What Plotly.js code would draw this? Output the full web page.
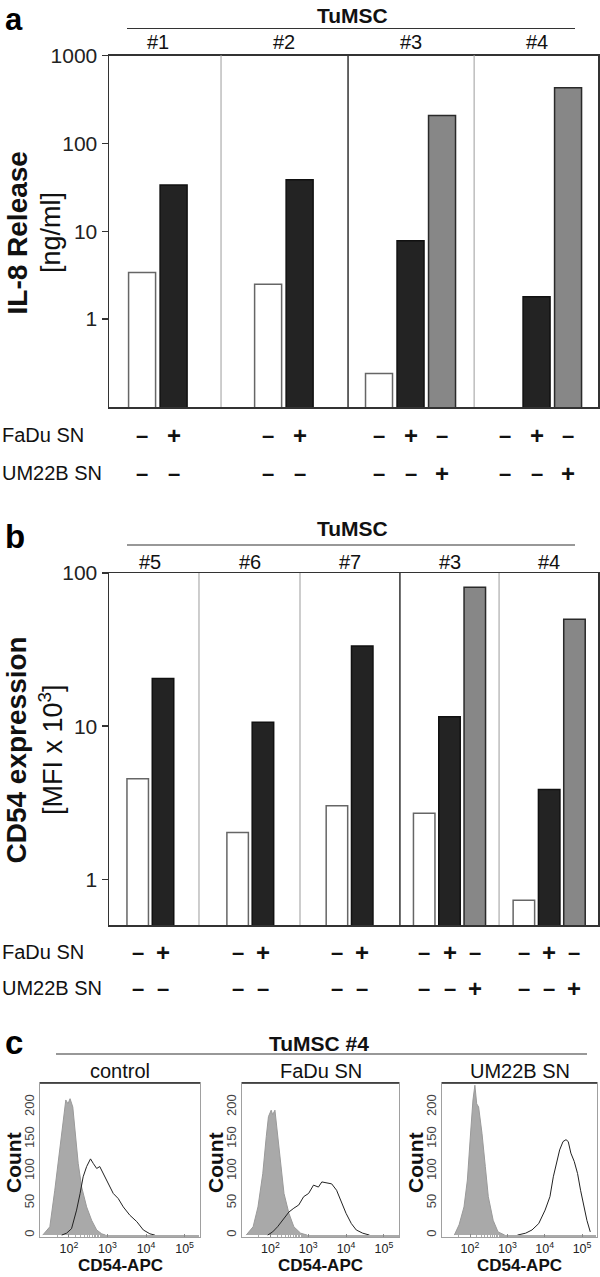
<!DOCTYPE html>
<html><head><meta charset="utf-8">
<script src="https://cdn.plot.ly/plotly-3.0.1.min.js"></script>
<style>html,body{margin:0;padding:0;background:#fff}#chart{width:600px;height:1277px}</style>
</head><body><div id="chart"></div>
<script>
// ================= DATA =================
// Panel a: IL-8 release [ng/ml]
const groupsA = ['#1', '#2', '#3', '#4'];
const controlA = [3.4, 2.5, 0.24, null];
const fadaA = [33.5, 38.5, 7.8, 1.8];
const um22bA = [null, null, 208, 430];
const nCondA = [2, 2, 3, 3];
const yTicksA = [1, 10, 100, 1000];

// Panel b: CD54 expression [MFI x 10^3]
const groupsB = ['#5', '#6', '#7', '#3', '#4'];
const controlB = [4.54, 2.02, 3.02, 2.7, 0.73];
const fadaB = [20.5, 10.6, 33.4, 11.5, 3.86];
const um22bB = [null, null, null, 80.7, 49.9];
const nCondB = [2, 2, 2, 3, 3];
const yTicksB = [1, 10, 100];

const rowLabels = ['FaDu SN', 'UM22B SN'];

// Panel c: flow cytometry histograms, TuMSC #4 (CD54-APC intensity, count)
const histTitles = ['control', 'FaDu SN', 'UM22B SN'];
const isoCtrlX = [21, 32, 43, 58, 71, 83, 95, 107, 126, 145, 174, 214, 288, 389, 525, 708, 891];
const isoCtrlY = [0, 13, 70, 138, 180, 211, 205, 213, 200, 164, 112, 75, 44, 23, 8, 2, 0];
const cd54CtrlX = [65, 87, 117, 158, 195, 234, 288, 363, 427, 525, 631, 776, 1047, 1413, 1905, 2570, 3802, 5754, 8511, 12589, 16982];
const cd54CtrlY = [0, 3, 10, 39, 65, 91, 107, 119, 112, 104, 107, 96, 81, 65, 57, 44, 31, 21, 8, 2, 0];
const isoFaduX = [23, 35, 47, 63, 78, 89, 105, 115, 132, 155, 191, 229, 309, 417, 631, 933];
const isoFaduY = [0, 13, 44, 96, 154, 185, 195, 188, 195, 159, 102, 65, 34, 13, 3, 0];
const cd54FaduX = [85, 115, 155, 229, 309, 417, 562, 759, 1023, 1380, 1862, 2291, 3090, 4169, 5623, 7586, 10000, 13804, 18621, 27542, 41687];
const cd54FaduY = [0, 5, 13, 26, 36, 42, 47, 60, 65, 78, 75, 83, 81, 80, 70, 52, 34, 18, 8, 3, 0];
const isoUmX = [38, 51, 69, 85, 105, 120, 135, 151, 170, 209, 257, 309, 417, 562, 851];
const isoUmY = [0, 16, 44, 86, 164, 211, 234, 205, 200, 159, 107, 60, 23, 5, 0];
const cd54UmX = [1862, 3090, 4571, 6918, 10233, 13804, 16982, 20417, 25119, 30903, 37154, 42658, 50119, 61660, 75858, 91201, 112202, 134896, 165959];
const cd54UmY = [0, 3, 8, 18, 39, 60, 91, 112, 133, 146, 149, 146, 128, 115, 96, 70, 44, 23, 5];
const countTicks = [0, 50, 100, 150, 200];
const intensityTicks = [100, 1000, 10000, 100000];

// ================= LAYOUT CONSTANTS =================
const W = 600, H = 1277;
const px = x => x / W;
const py = y => 1 - y / H;
const FONT = 'Liberation Sans, Arial, sans-serif';

const P = {
  a: {groups: groupsA, series: [controlA, fadaA, um22bA], nCond: nCondA, ticks: yTicksA,
      box: [109, 598, 55.5, 407], xRange: [0, 15.52], yRange: [-1, 3],
      centers: [1.55, 5.55, 9.57, 13.57], dividers: [3.556, 7.587, 11.59], dark: [0, 1, 0],
      barW: 0.857, head: [16, 28.5, 42], rows: [435, 473], letter: 'a',
      t1: 'IL-8 Release', t2: '[ng/ml]', tY: 233},
  b: {groups: groupsB, series: [controlB, fadaB, um22bB], nCond: nCondB, ticks: yTicksB,
      box: [109, 598, 573, 925], xRange: [0, 19.33], yRange: [Math.log10(0.503), 2],
      centers: [1.635, 5.585, 9.51, 13.46, 17.4], dividers: [3.557, 7.55, 11.5, 15.42], dark: [0, 0, 1, 0],
      barW: 0.85, head: [528, 545, 562], rows: [952, 988], letter: 'b',
      t1: 'CD54 expression', t2: '[MFI x 10<sup>3</sup>]', tY: 750}
};
const barStyles = [
  {fill: '#ffffff', line: '#666666'},
  {fill: '#232323', line: '#111111'},
  {fill: '#878787', line: '#2a2a2a'}
];

const traces = [];
const shapes = [];
const annotations = [];
const layout = {
  width: W, height: H, margin: {l: 0, r: 0, t: 0, b: 0},
  paper_bgcolor: '#fff', plot_bgcolor: 'rgba(0,0,0,0)',
  showlegend: false, barmode: 'overlay', font: {family: FONT, color: '#1a1a1a'},
  shapes: shapes, annotations: annotations
};

['a', 'b'].forEach((key, pi) => {
  const p = P[key];
  const xa = pi === 0 ? 'x' : 'x2', ya = pi === 0 ? 'y' : 'y2';
  const xName = pi === 0 ? 'xaxis' : 'xaxis2', yName = pi === 0 ? 'yaxis' : 'yaxis2';
  layout[xName] = {domain: [px(p.box[0]), px(p.box[1])], range: p.xRange, anchor: ya,
    showgrid: false, zeroline: false, showticklabels: false, ticks: '',
    showline: true, mirror: true, linecolor: '#333', linewidth: 1.5, fixedrange: true};
  layout[yName] = {domain: [py(p.box[3]), py(p.box[2])], type: 'log', range: p.yRange, anchor: xa,
    showgrid: false, zeroline: false, tickvals: p.ticks, ticktext: p.ticks.map(String),
    ticks: 'outside', ticklen: 6, tickwidth: 1.5, tickcolor: '#333',
    tickfont: {family: FONT, size: 21, color: '#222'},
    showline: true, mirror: true, linecolor: '#333', linewidth: 1.5, fixedrange: true};

  // bars
  for (let s = 0; s < 3; s++) {
    const xs = [], ys = [];
    p.groups.forEach((g, gi) => {
      const n = p.nCond[gi];
      if (s < n && p.series[s][gi] !== null) {
        xs.push(p.centers[gi] + (s - (n - 1) / 2));
        ys.push(p.series[s][gi]);
      }
    });
    traces.push({type: 'bar', x: xs, y: ys, xaxis: xa, yaxis: ya, width: p.barW,
      marker: {color: barStyles[s].fill, line: {color: barStyles[s].line, width: 1.5}},
      hoverinfo: 'skip'});
  }

  // dividers
  p.dividers.forEach((d, i) => {
    shapes.push({type: 'line', xref: xa, yref: ya + ' domain', x0: d, x1: d, y0: 0, y1: 1,
      line: {color: p.dark[i] ? '#333' : '#bdbdbd', width: 1.5}, layer: 'above'});
  });

  // header
  annotations.push({text: '<b>TuMSC</b>', xref: 'paper', yref: 'paper', x: px(352), y: py(p.head[0]),
    showarrow: false, xanchor: 'center', yanchor: 'middle', font: {size: 21, family: FONT, color: '#111'}});
  shapes.push({type: 'line', xref: 'paper', yref: 'paper', x0: px(127), x1: px(575), y0: py(p.head[1]), y1: py(p.head[1]),
    line: {color: '#333', width: 1.2}});
  p.groups.forEach((g, gi) => {
    annotations.push({text: g, xref: xa, yref: 'paper', x: p.centers[gi], y: py(p.head[2]),
      showarrow: false, xanchor: 'center', yanchor: 'middle', font: {size: 20, family: FONT, color: '#111'}});
  });

  // +/- rows
  rowLabels.forEach((lab, r) => {
    annotations.push({text: lab, xref: 'paper', yref: 'paper', x: 0, y: py(p.rows[r]),
      showarrow: false, xanchor: 'left', yanchor: 'middle', font: {size: 20, family: FONT, color: '#111'}});
    p.groups.forEach((g, gi) => {
      const n = p.nCond[gi];
      for (let k = 0; k < n; k++) {
        const plus = k === r + 1;
        annotations.push({text: '<b>' + (plus ? '+' : '–') + '</b>', xref: xa, yref: 'paper',
          x: p.centers[gi] + (k - (n - 1) / 2), y: py(p.rows[r]),
          showarrow: false, xanchor: 'center', yanchor: 'middle',
          font: {size: plus ? 24 : 22, family: FONT, color: '#111'}});
      }
    });
  });

  // y titles
  annotations.push({text: '<b>' + p.t1 + '</b>', xref: 'paper', yref: 'paper', x: px(16.5), y: py(p.tY),
    showarrow: false, xanchor: 'center', yanchor: 'middle', textangle: -90, font: {size: 28, family: FONT, color: '#111'}});
  annotations.push({text: p.t2, xref: 'paper', yref: 'paper', x: px(51), y: py(p.tY),
    showarrow: false, xanchor: 'center', yanchor: 'middle', textangle: -90, font: {size: 27, family: FONT, color: '#111'}});
});

// panel letters
annotations.push({text: '<b>a</b>', xref: 'paper', yref: 'paper', x: px(3), y: 1,
  showarrow: false, xanchor: 'left', yanchor: 'top', font: {size: 31, family: FONT, color: '#000'}});
annotations.push({text: '<b>b</b>', xref: 'paper', yref: 'paper', x: px(3), y: py(536),
  showarrow: false, xanchor: 'left', yanchor: 'middle', font: {size: 33, family: FONT, color: '#000'}});

// ---- panel c ----
const hist = [
  {iso: [isoCtrlX, isoCtrlY], cd: [cd54CtrlX, cd54CtrlY], box: [40, 200]},
  {iso: [isoFaduX, isoFaduY], cd: [cd54FaduX, cd54FaduY], box: [242, 399]},
  {iso: [isoUmX, isoUmY], cd: [cd54UmX, cd54UmY], box: [442, 597]}
];
const hTop = 1083, hBot = 1237;
hist.forEach((h, i) => {
  const n = i + 3;
  const xa = 'x' + n, ya = 'y' + n;
  layout['xaxis' + n] = {domain: [px(h.box[0]), px(h.box[1])], type: 'log', range: [1.25, 5.4], anchor: ya,
    showgrid: false, zeroline: false, tickvals: intensityTicks,
    ticktext: intensityTicks.map(v => '10<sup>' + Math.round(Math.log10(v)) + '</sup>'),
    ticks: 'inside', ticklen: 3, tickcolor: '#888', tickfont: {size: 12.5, family: FONT, color: '#222'},
    minor: {ticks: 'inside', ticklen: 2, tickcolor: '#aaa'},
    showline: true, mirror: true, linecolor: '#a0a0a0', linewidth: 1, fixedrange: true};
  layout['yaxis' + n] = {domain: [py(hBot), py(hTop)], range: [-3, 237.5], anchor: xa,
    showgrid: false, zeroline: false, tickvals: countTicks, ticktext: countTicks.map(String), tickangle: -90,
    ticks: '', tickfont: {size: 13, family: FONT, color: '#444'},
    showline: true, mirror: true, linecolor: '#a0a0a0', linewidth: 1, fixedrange: true};
  traces.push({type: 'scatter', mode: 'lines', x: h.iso[0], y: h.iso[1], xaxis: xa, yaxis: ya,
    fill: 'tozeroy', fillcolor: '#a9a9a9', line: {color: '#9a9a9a', width: 1}, hoverinfo: 'skip'});
  traces.push({type: 'scatter', mode: 'lines', x: h.cd[0], y: h.cd[1], xaxis: xa, yaxis: ya,
    line: {color: '#222', width: 1}, hoverinfo: 'skip'});
  shapes.push({type: 'line', xref: xa + ' domain', yref: ya + ' domain', x0: 0, x1: 1, y0: 1, y1: 1,
    line: {color: '#222', width: 1.5}});
  const cx = (h.box[0] + h.box[1]) / 2;
  annotations.push({text: histTitles[i], xref: 'paper', yref: 'paper', x: px(cx), y: py(1071),
    showarrow: false, xanchor: 'center', yanchor: 'middle', font: {size: 20, family: FONT, color: '#111'}});
  annotations.push({text: '<b>CD54-APC</b>', xref: 'paper', yref: 'paper', x: px(cx), y: 0,
    showarrow: false, xanchor: 'center', yanchor: 'bottom', font: {size: 17, family: FONT, color: '#111'}});
  annotations.push({text: '<b>Count</b>', xref: 'paper', yref: 'paper', x: px(h.box[0] - 27), y: py(1163),
    showarrow: false, xanchor: 'center', yanchor: 'middle', textangle: -90, font: {size: 21, family: FONT, color: '#111'}});
});
annotations.push({text: '<b>c</b>', xref: 'paper', yref: 'paper', x: px(3), y: py(1042),
  showarrow: false, xanchor: 'left', yanchor: 'middle', font: {size: 33, family: FONT, color: '#000'}});
annotations.push({text: '<b>TuMSC #4</b>', xref: 'paper', yref: 'paper', x: px(319), y: py(1043),
  showarrow: false, xanchor: 'center', yanchor: 'middle', font: {size: 21, family: FONT, color: '#111'}});
shapes.push({type: 'line', xref: 'paper', yref: 'paper', x0: px(56), x1: px(587), y0: py(1054), y1: py(1054),
  line: {color: '#333', width: 1.2}});

Plotly.newPlot('chart', traces, layout, {staticPlot: true, displayModeBar: false});
</script></body></html>
